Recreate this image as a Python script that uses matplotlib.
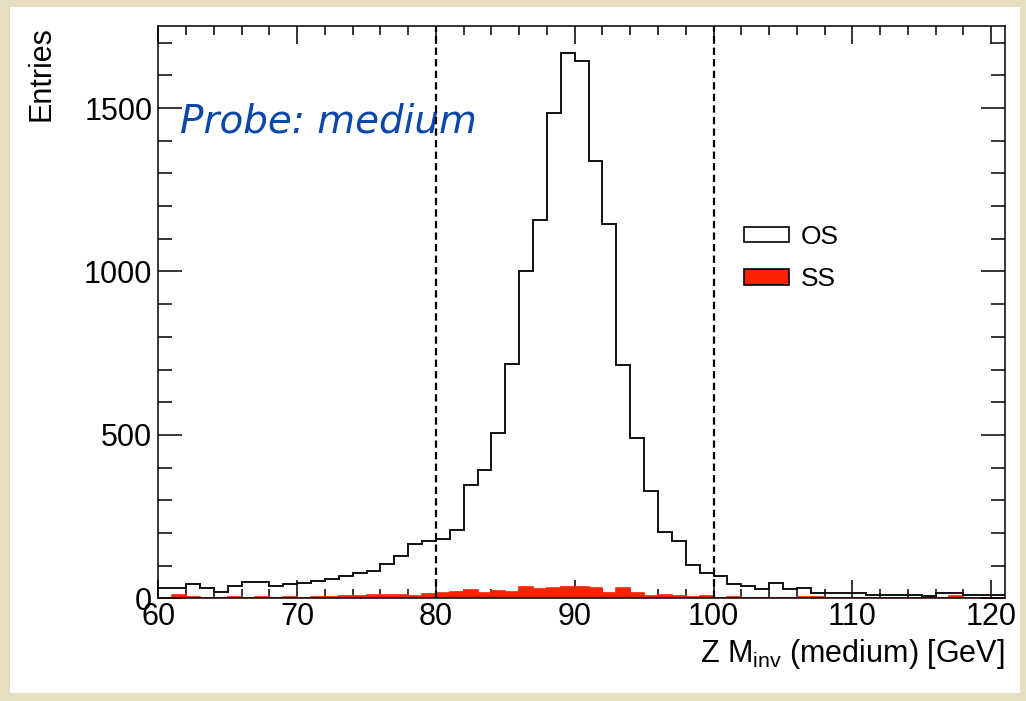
import numpy as np
import matplotlib
matplotlib.use("Agg")
import matplotlib.pyplot as plt
from matplotlib.patches import Rectangle, Patch
from matplotlib.ticker import MultipleLocator

plt.rcParams['font.family'] = ['Liberation Sans', 'DejaVu Sans']
plt.rcParams['mathtext.fontset'] = 'custom'
plt.rcParams['mathtext.rm'] = 'Liberation Sans'

# Z invariant mass, 1 GeV bins from 60 to 121
bin_lo = 60
bin_width = 1
os_counts = [30, 30, 44, 31, 18, 38, 50, 50, 38, 44,
             46, 52, 58, 68, 78, 85, 105, 128, 165, 175,
             181, 208, 346, 394, 507, 716, 1000, 1157, 1484, 1669,
             1645, 1338, 1144, 713, 489, 327, 204, 174, 103, 78,
             68, 45, 38, 27, 48, 28, 33, 17, 17, 17,
             17, 11, 11, 11, 11, 6, 16, 16, 10, 10,
             10]
ss_counts = [0, 10, 5, 0, 2, 4, 0, 4, 0, 3,
             0, 3, 4, 8, 6, 10, 10, 10, 8, 14,
             16, 18, 24, 17, 22, 20, 35, 27, 30, 36,
             36, 30, 17, 30, 17, 7, 11, 7, 3, 7,
             2, 5, 0, 2, 0, 0, 3, 5, 0, 2,
             0, 0, 0, 0, 2, 7, 0, 7, 0, 0,
             0]
cuts = [80, 100]
labels = ['OS', 'SS']

edges = bin_lo + bin_width * np.arange(len(os_counts) + 1)

fig = plt.figure(figsize=(10.26, 7.01), dpi=100, facecolor='#e7ddc0')
fig.patches.append(Rectangle((10 / 1026, 1 - 693 / 701), 1010 / 1026, 686 / 701,
                             transform=fig.transFigure, facecolor='white',
                             edgecolor='none', zorder=-10))
ax = fig.add_axes([158.3 / 1026, 1 - 598.3 / 701, 846.7 / 1026, 572.6 / 701])

ax.stairs(ss_counts, edges, fill=True, facecolor='#ff2200', edgecolor='#ff2200', lw=1.2, zorder=2)
ax.stairs(os_counts, edges, color='#111111', lw=1.4, zorder=3)
for c in cuts:
    ax.axvline(c, color='black', lw=1.6, ls=(0, (3.3, 1.9)), zorder=4)

ax.set_xlim(edges[0], edges[-1])
ax.set_ylim(0, 1752)
ax.xaxis.set_major_locator(MultipleLocator(10))
ax.xaxis.set_minor_locator(MultipleLocator(2))
ax.yaxis.set_major_locator(MultipleLocator(500))
ax.yaxis.set_minor_locator(MultipleLocator(100))
ax.tick_params(which='both', direction='in', top=True, right=True, width=1.1, labelsize=22)
ax.tick_params(axis='x', which='major', length=13, pad=2.5)
ax.tick_params(axis='x', which='minor', length=6.5)
ax.tick_params(axis='y', which='major', length=17, pad=4.3)
ax.tick_params(axis='y', which='minor', length=10)
for s in ax.spines.values():
    s.set_linewidth(1.1)

ax.set_xlabel(r'Z M$_{\mathregular{inv}}$ (medium) [GeV]', fontsize=22, loc='right', labelpad=4)
ax.set_ylabel('Entries', fontsize=22, loc='top', labelpad=20)

ax.text(0.026, 0.813, 'Probe: medium', transform=ax.transAxes, fontsize=28,
        family='DejaVu Sans', style='italic', color='#0b47a9', va='baseline')

handles = [Patch(facecolor='white', edgecolor='black', lw=1.2),
           Patch(facecolor='#ff2200', edgecolor='black', lw=1.2)]
ax.legend(handles, labels, loc='upper left', bbox_to_anchor=(0.692, 0.652),
          frameon=False, fontsize=19, handlelength=1.7, handleheight=0.53,
          handletextpad=0.45, labelspacing=0.7, borderpad=0, borderaxespad=0)

fig.savefig('out.png', dpi=100, facecolor=fig.get_facecolor())
